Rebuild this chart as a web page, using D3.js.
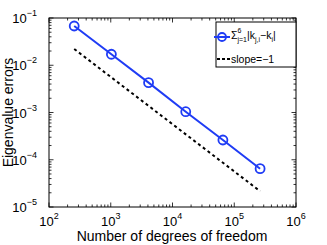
<!DOCTYPE html>
<html>
<head>
<meta charset="utf-8">
<script src="https://cdn.jsdelivr.net/npm/d3@7"></script>
<style>
  body { margin: 0; background: #fff; }
  svg { font-family: "Liberation Sans", Arial, sans-serif; }
</style>
</head>
<body>
<div id="chart"></div>
<script>
// data
var dofs = [256, 1024, 4096, 16384, 65536, 262144];
var errors = [0.0677, 0.0171, 0.00428, 0.00104, 0.000262, 0.0000647];
var slopeX = [256, 262144];
var slopeY = [0.0221, 0.0000216];
var xTicks = [2, 3, 4, 5, 6];
var yTicks = [-5, -4, -3, -2, -1];

var W = 327, H = 245;
var margin = {top: 18, right: 31, bottom: 38, left: 49},
    width = W - margin.left - margin.right,
    height = H - margin.top - margin.bottom;

var svg = d3.select("#chart").append("svg")
    .attr("width", W)
    .attr("height", H);

var g = svg.append("g")
    .attr("transform", "translate(" + margin.left + "," + margin.top + ")");

var xScale = d3.scaleLog().domain([1e2, 1e6]).range([0, width]);
var yScale = d3.scaleLog().domain([1e-5, 1e-1]).range([height, 0]);

// minor ticks
var minorX = [], minorY = [];
for (var e = 2; e < 6; e++) for (var m = 2; m < 10; m++) minorX.push(m * Math.pow(10, e));
for (var e2 = -5; e2 < -1; e2++) for (var m2 = 2; m2 < 10; m2++) minorY.push(m2 * Math.pow(10, e2));

var ticks = g.append("g").attr("stroke", "#000").attr("stroke-width", 0.8);

function tickLines(vals, len, isX) {
  vals.forEach(function(v) {
    if (isX) {
      var x = xScale(v);
      ticks.append("line").attr("x1", x).attr("x2", x).attr("y1", height).attr("y2", height - len);
      ticks.append("line").attr("x1", x).attr("x2", x).attr("y1", 0).attr("y2", len);
    } else {
      var y = yScale(v);
      ticks.append("line").attr("y1", y).attr("y2", y).attr("x1", 0).attr("x2", len);
      ticks.append("line").attr("y1", y).attr("y2", y).attr("x1", width).attr("x2", width - len);
    }
  });
}
tickLines(minorX, 2.5, true);
tickLines(minorY, 2.5, false);
tickLines(xTicks.map(function(d) { return Math.pow(10, d); }), 4.5, true);
tickLines(yTicks.map(function(d) { return Math.pow(10, d); }), 4.5, false);

g.append("rect")
    .attr("width", width)
    .attr("height", height)
    .attr("fill", "none")
    .attr("stroke", "#000")
    .attr("stroke-width", 1);

// tick labels
var xl = g.selectAll(".xlab").data(xTicks).enter()
  .append("text")
    .attr("class", "xlab")
    .attr("x", function(d) { return xScale(Math.pow(10, d)); })
    .attr("y", height + 19)
    .attr("text-anchor", "middle")
    .attr("font-size", 13);
xl.append("tspan").text("10");
xl.append("tspan").attr("dy", -7).attr("font-size", 9).text(function(d) { return d; });

var yl = g.selectAll(".ylab").data(yTicks).enter()
  .append("text")
    .attr("class", "ylab")
    .attr("x", -12)
    .attr("y", function(d) { return yScale(Math.pow(10, d)) + 5; })
    .attr("text-anchor", "end")
    .attr("font-size", 13);
yl.append("tspan").text("10");
yl.append("tspan").attr("dy", -7).attr("font-size", 9).text(function(d) { return "\u2212" + (-d); });

// axis titles
g.append("text")
    .attr("x", 172 - margin.left)
    .attr("y", height + 34)
    .attr("text-anchor", "middle")
    .attr("font-size", 14)
    .text("Number of degrees of freedom");

g.append("text")
    .attr("transform", "translate(" + (-36) + "," + (height / 2) + ") rotate(-90)")
    .attr("text-anchor", "middle")
    .attr("font-size", 14)
    .text("Eigenvalue errors");

// slope line
var line = d3.line()
    .x(function(d) { return xScale(d[0]); })
    .y(function(d) { return yScale(d[1]); });

g.append("path")
    .datum(d3.zip(slopeX, slopeY))
    .attr("d", line)
    .attr("fill", "none")
    .attr("stroke", "#000")
    .attr("stroke-width", 2)
    .attr("stroke-dasharray", "3,3");

var blue = "#1f3cf5";
g.append("path")
    .datum(d3.zip(dofs, errors))
    .attr("d", line)
    .attr("fill", "none")
    .attr("stroke", blue)
    .attr("stroke-width", 2);

g.selectAll(".pt").data(d3.zip(dofs, errors)).enter()
  .append("circle")
    .attr("class", "pt")
    .attr("cx", function(d) { return xScale(d[0]); })
    .attr("cy", function(d) { return yScale(d[1]); })
    .attr("r", 4.5)
    .attr("fill", "none")
    .attr("stroke", blue)
    .attr("stroke-width", 1.8);

// legend
var leg = svg.append("g").attr("transform", "translate(216,22)");
leg.append("rect")
    .attr("width", 80)
    .attr("height", 45)
    .attr("fill", "#fff")
    .attr("stroke", "#000")
    .attr("stroke-width", 1);

leg.append("line")
    .attr("x1", -2).attr("x2", 14).attr("y1", 15).attr("y2", 15)
    .attr("stroke", blue).attr("stroke-width", 2);
leg.append("circle")
    .attr("cx", 6).attr("cy", 15).attr("r", 4)
    .attr("fill", "none").attr("stroke", blue).attr("stroke-width", 1.8);

var t1 = leg.append("text").attr("x", 15).attr("y", 17).attr("font-size", 10.5);
t1.append("tspan").text("\u03A3");
t1.append("tspan").attr("dy", -6).attr("font-size", 7).text("6");
t1.append("tspan").attr("dx", -4).attr("dy", 9).attr("font-size", 7).text("j=1");
t1.append("tspan").attr("dy", -3).text("|k");
t1.append("tspan").attr("dy", 3).attr("font-size", 7).text("j,i");
t1.append("tspan").attr("dy", -3).text("\u2212k");
t1.append("tspan").attr("dy", 3).attr("font-size", 7).text("i");
t1.append("tspan").attr("dy", -3).text("|");

leg.append("line")
    .attr("x1", 1).attr("x2", 14).attr("y1", 37).attr("y2", 37)
    .attr("stroke", "#000").attr("stroke-width", 2)
    .attr("stroke-dasharray", "3,2");
leg.append("text")
    .attr("x", 15).attr("y", 40.5)
    .attr("font-size", 10.5)
    .text("slope=\u22121");
</script>
</body>
</html>
